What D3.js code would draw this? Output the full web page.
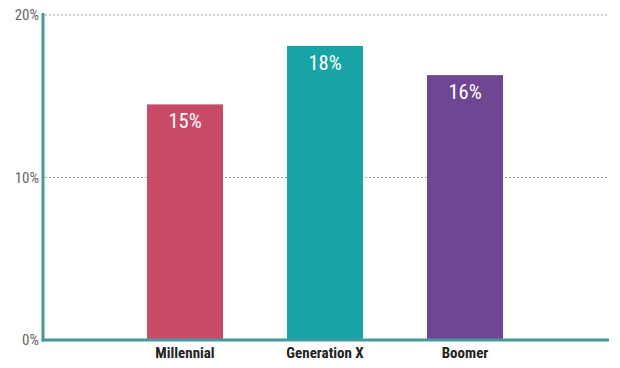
<!DOCTYPE html>
<html><head><meta charset="utf-8">
<script src="https://cdn.jsdelivr.net/npm/d3@7"></script>
<style>
body{margin:0;background:#fff;}
svg{display:block;}
text{font-family:"Roboto Condensed","Liberation Sans Narrow","DejaVu Sans Condensed","Roboto",sans-serif;}
</style></head>
<body>
<script>
const categories = ["Millennial","Generation X","Boomer"];
const values = [14.5, 18.1, 16.3];
const labels = ["15%","18%","16%"];
const colors = ["#c94b68","#18a3a4","#6f4691"];
const yTicks = [0,10,20];

const W=620,H=368;
const svg=d3.select("body").append("svg").attr("width",W).attr("height",H);
const y=d3.scaleLinear().domain([0,20]).range([340,15]);
const x=d3.scaleBand().domain(categories).range([115,535]).paddingInner(0.457).paddingOuter(0.2285);

// gridlines
svg.append("g").selectAll("line").data(yTicks.filter(d=>d>0)).join("line")
  .attr("x1",45).attr("x2",608).attr("y1",d=>y(d)).attr("y2",d=>y(d))
  .attr("stroke","#999").attr("stroke-width",1).attr("stroke-dasharray","2,2");

// bars
svg.append("g").selectAll("rect").data(categories).join("rect")
  .attr("x",d=>x(d)).attr("width",x.bandwidth())
  .attr("y",(d,i)=>y(values[i])).attr("height",(d,i)=>y(0)-y(values[i]))
  .attr("fill",(d,i)=>colors[i]);

// value labels
svg.append("g").selectAll("text").data(categories).join("text")
  .attr("x",d=>x(d)+x.bandwidth()/2).attr("y",(d,i)=>y(values[i])+24)
  .attr("text-anchor","middle").attr("fill","#fff").attr("font-size",20.5)
  .text((d,i)=>labels[i]);

// y axis tick labels
const yAxis=d3.axisLeft(y).tickValues(yTicks).tickFormat(d=>d+"%").tickSize(0).tickPadding(4);
const gy=svg.append("g").attr("transform","translate(43,0)").call(yAxis);
gy.select(".domain").remove();
gy.selectAll("text").attr("font-size",15).attr("fill","#666").attr("font-family",null);

// x axis labels
const xAxis=d3.axisBottom(x).tickSize(0).tickPadding(7);
const gx=svg.append("g").attr("transform","translate(0,340)").call(xAxis);
gx.select(".domain").remove();
gx.selectAll("text").attr("font-size",15).attr("font-weight","bold").attr("fill","#222").attr("font-family",null);

// axis lines
svg.append("line").attr("x1",43).attr("x2",43).attr("y1",13).attr("y2",341.5)
  .attr("stroke","#46999a").attr("stroke-width",3);
svg.append("line").attr("x1",41.5).attr("x2",609).attr("y1",340).attr("y2",340)
  .attr("stroke","#46999a").attr("stroke-width",3);
</script>
</body></html>
